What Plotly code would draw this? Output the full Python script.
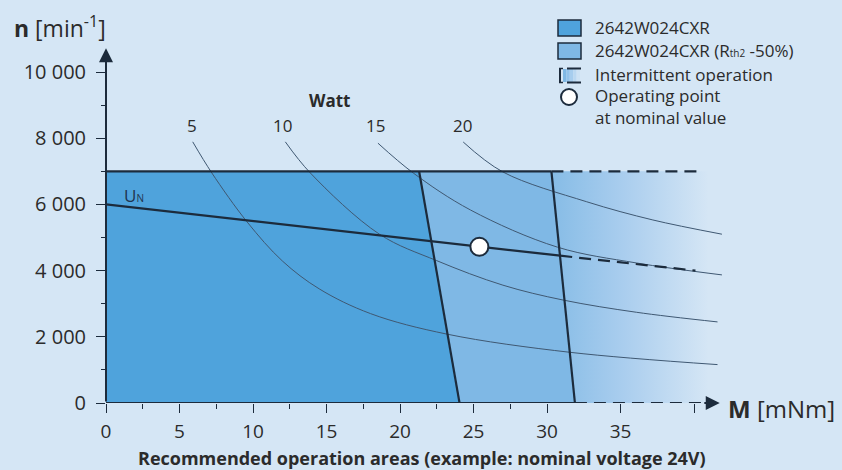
import plotly.graph_objects as go

# ---------------------------------------------------------------- data
# Torque M [mNm] and speed n [min^-1]

# continuous operation area, standard motor
area1_m = [0, 0, 21.3, 24.05]
area1_n = [0, 7000, 7000, 0]
# extended area with improved thermal resistance (Rth2 -50%)
area2_m = [21.3, 30.3, 31.9, 24.05]
area2_n = [7000, 7000, 0, 0]
# intermittent operation zone
inter_m = [30.3, 41.0, 41.0, 31.9]
inter_n = [7000, 7000, 0, 0]

# speed limit line
limit_m = [0, 30.3]
limit_n = [7000, 7000]
limit_dash_m = [30.3, 40.2]
limit_dash_n = [7000, 7000]

# thermal limit borders
border1_m = [21.3, 24.05]
border1_n = [7000, 0]
border2_m = [30.3, 31.9]
border2_n = [7000, 0]

# characteristic at nominal voltage U_N
un_m = [0, 30.9]
un_n = [6000, 4450]
un_dash_m = [30.9, 40.1]
un_dash_n = [4450, 4000]

# operating point at nominal value
op_m = [25.4]
op_n = [4720]

# constant output power curves
power_labels = ["5", "10", "15", "20"]
p5_m = [5.9, 7.2, 9.6, 12.0, 14.5, 18.0, 23.2, 31.6, 41.6]
p5_n = [7890, 6950, 5470, 4290, 3450, 2700, 2080, 1530, 1160]
p10_m = [12.2, 13.9, 18.6, 22.5, 27.0, 31.1, 36.1, 41.6]
p10_n = [7890, 6950, 5100, 4300, 3560, 3110, 2740, 2450]
p15_m = [18.5, 20.9, 24.8, 30.7, 36.1, 41.9]
p15_n = [7850, 6950, 5830, 4710, 4230, 3870]
p20_m = [24.3, 27.0, 32.7, 37.2, 41.9]
p20_n = [7885, 6980, 6080, 5530, 5100]

# axis ticks
x_ticks = [0, 5, 10, 15, 20, 25, 30, 35, 40]
x_ticktext = ["0", "5", "10", "15", "20", "25", "30", "35", ""]
x_minor = [2.5, 7.5, 12.5, 17.5, 22.5, 27.5]
y_ticks = [0, 2000, 4000, 6000, 8000, 10000]
y_ticktext = ["0", "2 000", "4 000", "6 000", "8 000", "10 000"]
y_minor = [1000, 3000, 5000, 7000, 9000]

# ---------------------------------------------------------------- style
BG = "#d5e6f5"
C_AREA1 = "#4fa3dc"
C_AREA2 = "#7fb8e5"
DARK = "#1c2b3c"
CURVE = "#3f5872"
TXT = "#2b2b2b"
FONT = "Open Sans"

W, H = 842, 470
L, B = 106, 403             # canvas position of the origin
PW, PH = W - L, B
X_PER_UNIT = 14.7           # px per mNm
Y_PER_UNIT = 0.0331         # px per min^-1


def fx(px):
    """canvas x pixel -> paper fraction"""
    return (px - L) / PW


def fy(py):
    """canvas y pixel -> paper fraction"""
    return (B - py) / PH


fig = go.Figure()

# filled operating areas
fig.add_trace(go.Scatter(x=area1_m, y=area1_n, fill="toself", fillcolor=C_AREA1,
                         mode="lines", line=dict(width=0), hoverinfo="skip"))
fig.add_trace(go.Scatter(x=area2_m, y=area2_n, fill="toself", fillcolor=C_AREA2,
                         mode="lines", line=dict(width=0), hoverinfo="skip"))
fig.add_trace(go.Scatter(x=inter_m, y=inter_n, fill="toself",
                         fillgradient=dict(type="horizontal",
                                           colorscale=[[0, "#86bce6"], [0.45, "#a9cdee"],
                                                       [1, BG]]),
                         mode="lines", line=dict(width=0), hoverinfo="skip"))

# power curves
for pm, pn in [(p5_m, p5_n), (p10_m, p10_n), (p15_m, p15_n), (p20_m, p20_n)]:
    fig.add_trace(go.Scatter(x=pm, y=pn, mode="lines",
                             line=dict(color=CURVE, width=1, shape="spline", smoothing=1.0),
                             hoverinfo="skip"))

# limit lines
for xm, yn, dash in [(limit_m, limit_n, "solid"), (limit_dash_m, limit_dash_n, "12px,7px"),
                     (border1_m, border1_n, "solid"), (border2_m, border2_n, "solid"),
                     (un_m, un_n, "solid"), (un_dash_m, un_dash_n, "12px,7px")]:
    fig.add_trace(go.Scatter(x=xm, y=yn, mode="lines",
                             line=dict(color=DARK, width=2.2, dash=dash),
                             hoverinfo="skip"))

# horizontal axis: solid, then dashed towards the arrow
fig.add_trace(go.Scatter(x=[0, border2_m[1]], y=[0, 0], mode="lines",
                         line=dict(color=DARK, width=2.2), hoverinfo="skip"))
fig.add_trace(go.Scatter(x=[border2_m[1], 40.8], y=[0, 0], mode="lines",
                         line=dict(color=DARK, width=2.2, dash="12px,7px"), hoverinfo="skip"))

# operating point
fig.add_trace(go.Scatter(x=op_m, y=op_n, mode="markers",
                         marker=dict(size=18, color="white", line=dict(color=DARK, width=2)),
                         hoverinfo="skip"))

annotations = []
# axis arrows
annotations.append(dict(x=0, y=10720, ax=0, ay=0, xref="x", yref="y", axref="x", ayref="y",
                        text="", showarrow=True, arrowhead=2, arrowsize=1.4,
                        arrowwidth=2, arrowcolor=DARK))
annotations.append(dict(x=41.75, y=0, ax=40.6, ay=0, xref="x", yref="y", axref="x", ayref="y",
                        text="", showarrow=True, arrowhead=2, arrowsize=1.4,
                        arrowwidth=2, arrowcolor=DARK))


def label(text, px, py, size, anchor="center", bold=False, color=TXT):
    annotations.append(dict(text=f"<b>{text}</b>" if bold else text,
                            x=fx(px), y=fy(py), xref="paper", yref="paper",
                            xanchor=anchor, yanchor="middle", align="left", showarrow=False,
                            font=dict(family=FONT, size=size, color=color)))


label("<b>n</b> [min<sup>-1</sup>]", 12, 27, 23, anchor="left")
label("<b>M</b> [mNm]", 726, 409, 24, anchor="left")
label("Recommended operation areas (example: nominal voltage 24V)", 422, 457.5, 18, bold=True)
label("Watt", 329, 100, 17, bold=True)
for t, px in zip(power_labels, [192, 282, 375, 462]):
    label(t, px, 126, 17)
label("U<span style='font-size:10px'>N</span>", 122, 195, 17, anchor="left", color="#1f3550")

# legend
lg_x = 593
label("2642W024CXR", lg_x, 28, 17, anchor="left")
label("2642W024CXR (R<span style='font-size:10px'>th2</span> -50%)", lg_x, 51, 17, anchor="left")
label("Intermittent operation", lg_x, 75, 17, anchor="left")
label("Operating point<br>at nominal value", lg_x, 106.5, 17, anchor="left")

shapes = []
for y0, col in [(20, C_AREA1), (43, C_AREA2)]:
    shapes.append(dict(type="rect", xref="paper", yref="paper",
                       x0=fx(558), x1=fx(581), y0=fy(y0), y1=fy(y0 + 16),
                       fillcolor=col, line=dict(color=DARK, width=1.5)))
# intermittent symbol: bracket with fading fill
fade = ["#7fb8e5", "#92c2ea", "#a6cdee", "#bad8f1", "#cde2f4"]
for i, col in enumerate(fade):
    shapes.append(dict(type="rect", xref="paper", yref="paper",
                       x0=fx(563 + i * 3.4), x1=fx(566.4 + i * 3.4), y0=fy(69), y1=fy(82),
                       fillcolor=col, line=dict(width=0)))
shapes.append(dict(type="line", xref="paper", yref="paper",
                   x0=fx(560), x1=fx(560), y0=fy(68), y1=fy(83),
                   line=dict(color=DARK, width=2)))
for yy in (68.5, 82.5):
    shapes.append(dict(type="line", xref="paper", yref="paper",
                       x0=fx(559), x1=fx(563), y0=fy(yy), y1=fy(yy),
                       line=dict(color=DARK, width=1.5)))
    shapes.append(dict(type="line", xref="paper", yref="paper",
                       x0=fx(567), x1=fx(581), y0=fy(yy), y1=fy(yy),
                       line=dict(color=DARK, width=2)))
shapes.append(dict(type="circle", xref="paper", yref="paper",
                   x0=fx(561), x1=fx(577), y0=fy(89), y1=fy(105),
                   fillcolor="white", line=dict(color=DARK, width=2)))

fig.update_layout(
    width=W, height=H,
    margin=dict(l=L, r=0, t=0, b=H - B, pad=0),
    paper_bgcolor=BG, plot_bgcolor=BG,
    showlegend=False,
    annotations=annotations,
    shapes=shapes,
    font=dict(family=FONT, color=TXT),
)
fig.update_xaxes(range=[0, PW / X_PER_UNIT], showgrid=False, zeroline=False, showline=False,
                 tickvals=x_ticks, ticktext=x_ticktext, ticks="outside", ticklen=9,
                 tickwidth=1.2, tickcolor=DARK, ticklabelstandoff=2,
                 tickfont=dict(family=FONT, size=19, color=TXT),
                 minor=dict(tickvals=x_minor, ticks="outside", ticklen=5, tickwidth=1,
                            tickcolor=DARK),
                 automargin=False, fixedrange=True)
fig.update_yaxes(range=[0, PH / Y_PER_UNIT], showgrid=False, zeroline=False, showline=False,
                 tickvals=y_ticks, ticktext=y_ticktext, ticks="outside", ticklen=9,
                 tickwidth=1.2, tickcolor=DARK, ticklabelstandoff=6,
                 tickfont=dict(family=FONT, size=20, color=TXT),
                 minor=dict(tickvals=y_minor, ticks="outside", ticklen=4, tickwidth=1,
                            tickcolor=DARK),
                 automargin=False, fixedrange=True)

fig.write_html("out.html")
